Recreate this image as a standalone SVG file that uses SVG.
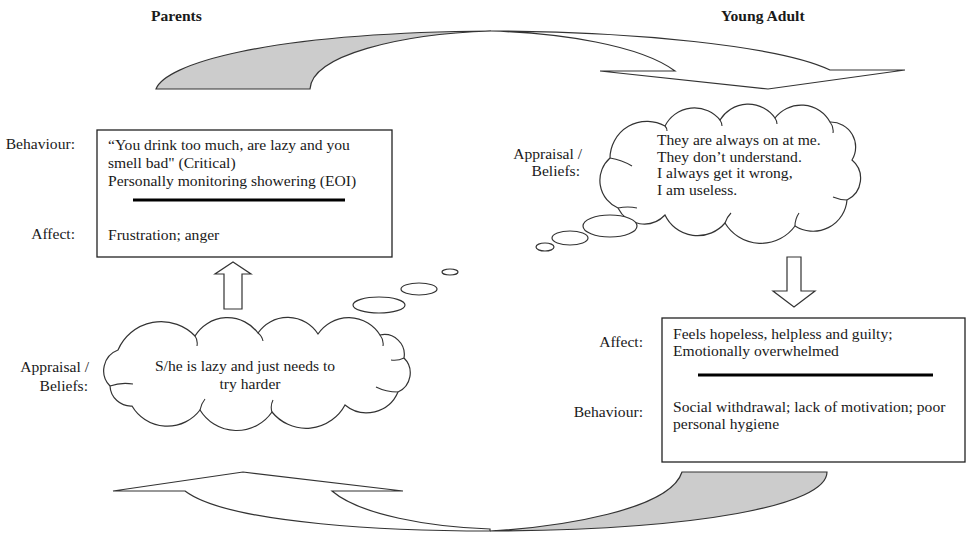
<svg xmlns="http://www.w3.org/2000/svg" width="969" height="533" viewBox="0 0 969 533">
<style>
.bg{fill:#ffffff}
.wf{fill:#ffffff;stroke:#333;stroke-width:1.2;stroke-linejoin:miter}
.gf{fill:#cccccc;stroke:#333;stroke-width:1.2}
.curl{fill:none;stroke:#333;stroke-width:1.1}
.box{fill:#ffffff;stroke:#222;stroke-width:1.3}
.rule{stroke:#000;stroke-width:3}
.t{font-family:"Liberation Serif","Times New Roman",serif;font-size:15.6px;fill:#1a1a1a}
.h{font-family:"Liberation Serif","Times New Roman",serif;font-size:15.6px;font-weight:bold;fill:#1a1a1a}
.r{text-anchor:end}
.m{text-anchor:middle}
</style>
<rect class="bg" x="0" y="0" width="969" height="533"/>

<g id="headers">
<text class="h" x="151" y="21">Parents</text>
<text class="h" x="721" y="21">Young Adult</text>
</g>

<g id="connectors">
<g id="top-arrow">
<path class="gf" d="M156,89 C165,65 260,33 491,31 C400,34 312,55 310,89 Z"/>
<path class="wf" d="M491,31 C630,31 780,46 830,70 L905,70 L768,89 L600,71 L675,71 C640,45 560,33 491,31 Z"/>
</g>
<g id="bottom-arrow">
<path class="gf" d="M682,472 L827,472 C827,505 700,530 490,531 C560,527 670,510 682,472 Z"/>
<path class="wf" d="M490,531 C400,531 230,525 185,491 L113,491 L243,472 L403,491 L332,491 C360,515 430,527 490,529 Z"/>
</g>
<polygon id="up-arrow" class="wf" points="224,309 224,274 215,274 233,262 251,274 242,274 242,309"/>
<polygon id="down-arrow" class="wf" points="787,257 801,257 801,291 815,291 794,307 773,291 787,291"/>
</g>

<g id="parent-behaviour">
<text class="t r" x="75" y="149">Behaviour:</text>
<text class="t r" x="75" y="239">Affect:</text>
<rect class="box" x="97" y="130" width="295" height="127"/>
<text class="t" x="108" y="150">“You drink too much, are lazy and you</text>
<text class="t" x="108" y="168">smell bad" (Critical)</text>
<text class="t" x="108" y="186">Personally monitoring showering  (EOI)</text>
<line class="rule" x1="133" y1="200" x2="345" y2="200"/>
<text class="t" x="108" y="240">Frustration; anger</text>
</g>

<g id="parent-beliefs">
<text class="t r" x="89" y="372">Appraisal /</text>
<text class="t r" x="88" y="391">Beliefs:</text>
<path class="wf" d="M132,406 A21,21 0 0 1 110,386 A22,22 0 0 1 118,350 A47,47 0 0 1 195,336 A38,38 0 0 1 258,333 A36,36 0 0 1 318,334 A37,37 0 0 1 380,335 A20,20 0 0 1 404,358 A21,21 0 0 1 398,392 A34,34 0 0 1 345,405 A44,44 0 0 1 272,412 A43,43 0 0 1 200,410 A41,41 0 0 1 132,406 Z"/>
<path class="curl" d="M110,386 Q121,382 133,384 M195,336 Q198,340 197,346 M258,333 Q262,336 263,341 M380,335 Q384,340 383,346 M404,358 Q398,361 391,360 M398,392 Q386,392 376,387 M272,412 Q270,406 273,400 M200,410 Q201,404 205,399"/>
<ellipse class="wf" cx="379" cy="305" rx="26" ry="8"/>
<ellipse class="wf" cx="419" cy="289" rx="18" ry="6"/>
<ellipse class="wf" cx="450" cy="272" rx="8" ry="3"/>
<text class="t m" x="245" y="371">S/he is lazy and just needs  to</text>
<text class="t m" x="250" y="389">try harder</text>
</g>

<g id="young-beliefs">
<text class="t r" x="582" y="159">Appraisal /</text>
<text class="t r" x="580" y="176">Beliefs:</text>
<path class="wf" d="M618,208 A30,30 0 0 1 610,158 A37,37 0 0 1 665,126 A33,33 0 0 1 720,120 A33,33 0 0 1 775,118 A33,33 0 0 1 830,122 A25,25 0 0 1 852,160 A24,24 0 0 1 847,200 A34,34 0 0 1 795,226 A42,42 0 0 1 725,223 A36,36 0 0 1 665,215 A29,29 0 0 1 618,208 Z"/>
<path class="curl" d="M610,158 Q622,160 632,166 M665,126 Q667,128 667,131 M720,120 Q722,123 722,126 M775,118 Q777,121 777,124 M830,122 Q834,127 833,133 M847,200 Q840,200 833,197 M795,226 Q795,219 799,213 M725,223 Q727,217 731,213 M618,208 Q628,206 637,208"/>
<ellipse class="wf" cx="610" cy="226" rx="27" ry="11"/>
<ellipse class="wf" cx="570" cy="238" rx="18" ry="7"/>
<ellipse class="wf" cx="545" cy="247" rx="9" ry="4"/>
<text class="t" x="657" y="145">They are always  on at me.</text>
<text class="t" x="657" y="162">They don’t understand.</text>
<text class="t" x="657" y="178">I always  get it wrong,</text>
<text class="t" x="657" y="195">I am useless.</text>
</g>

<g id="young-behaviour">
<text class="t r" x="643" y="347">Affect:</text>
<text class="t r" x="643" y="417">Behaviour:</text>
<rect class="box" x="662" y="318" width="303" height="144"/>
<text class="t" x="673" y="339">Feels hopeless,  helpless  and  guilty;</text>
<text class="t" x="673" y="356">Emotionally overwhelmed</text>
<line class="rule" x1="698" y1="375" x2="933" y2="375"/>
<text class="t" x="673" y="412">Social withdrawal;  lack of motivation; poor</text>
<text class="t" x="673" y="429">personal hygiene</text>
</g>
</svg>
